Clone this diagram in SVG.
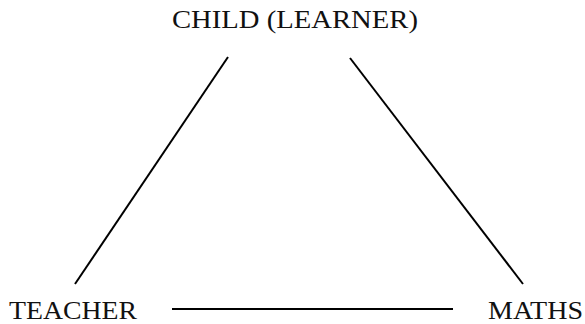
<svg xmlns="http://www.w3.org/2000/svg" width="585" height="324" viewBox="0 0 585 324">
<style>
.lbl{font-family:"Liberation Serif","DejaVu Serif",serif;font-size:25px;fill:#111}
.conn line{stroke:#000;stroke-width:2;stroke-linecap:butt}
</style>
<rect width="585" height="324" fill="#fff"/>
<g id="child"><text class="lbl" x="172" y="27.5" textLength="246" lengthAdjust="spacingAndGlyphs">CHILD (LEARNER)</text></g>
<g id="teacher"><text class="lbl" x="9" y="318.5" textLength="128" lengthAdjust="spacingAndGlyphs">TEACHER</text></g>
<g id="maths"><text class="lbl" x="488" y="318.5" textLength="95" lengthAdjust="spacingAndGlyphs">MATHS</text></g>
<g class="conn" id="connectors">
<line x1="228" y1="57" x2="75" y2="284"/>
<line x1="350" y1="58" x2="523" y2="284"/>
<line x1="172" y1="309" x2="453" y2="309"/>
</g>
</svg>
